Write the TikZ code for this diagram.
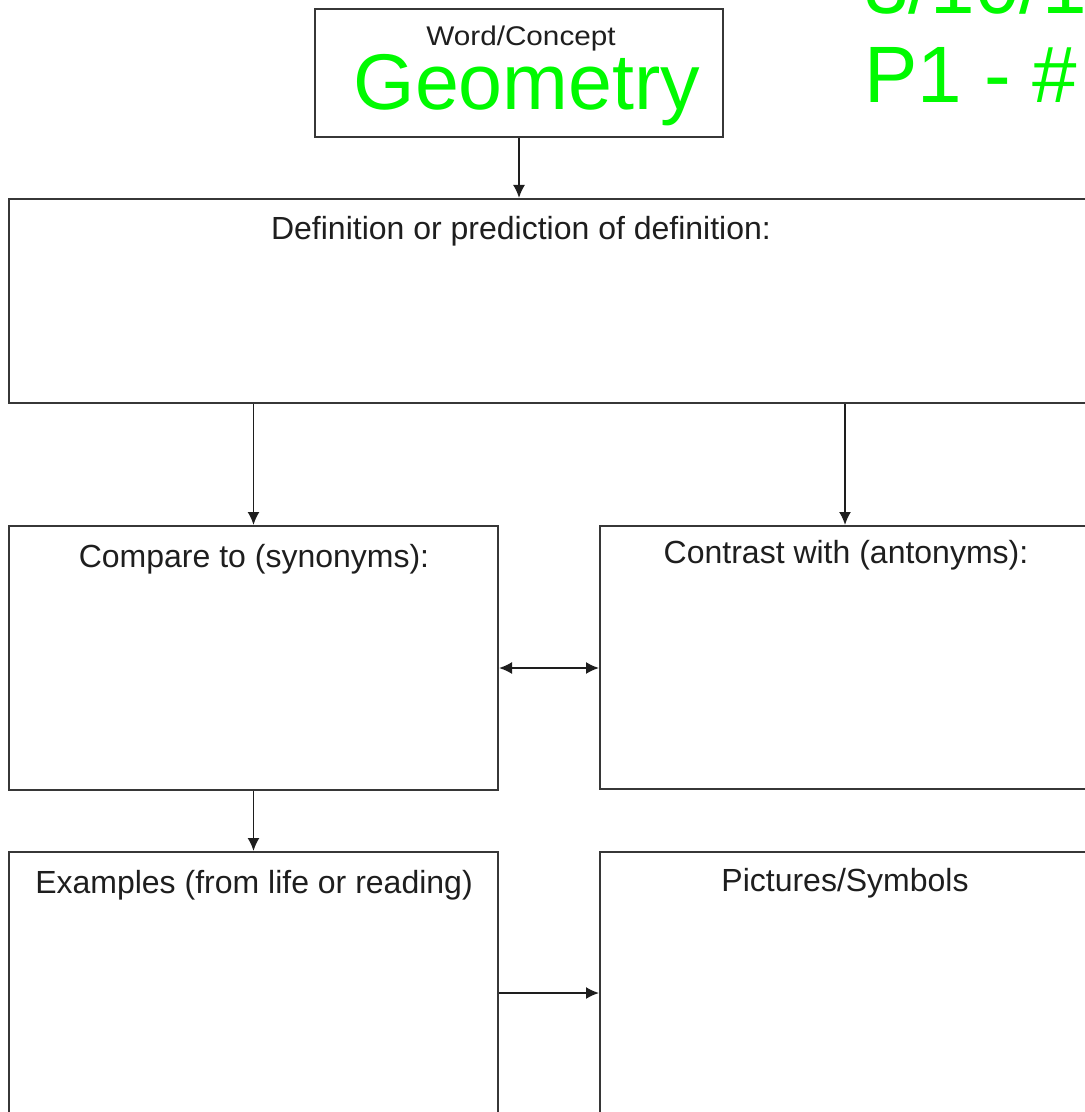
\documentclass[tikz,border=0pt]{standalone}
\usepackage{fontspec}
\setmainfont{Liberation Sans}
\usetikzlibrary{arrows.meta,positioning}
\definecolor{frameGray}{RGB}{55,55,55}
\definecolor{inkBlack} {RGB}{30,30,30}
\definecolor{penGreen} {RGB}{0,250,0}

\begin{document}
\begin{tikzpicture}[x=0.5pt,y=-0.5pt,
          >={Latex[length=6.5pt,width=6pt]},
          box/.style={rectangle,draw=frameGray,line width=1pt,inner sep=0pt},
          lbl/.style={anchor=base,text=inkBlack,font=\fontsize{16pt}{19pt}\selectfont},
          big/.style={anchor=base,text=penGreen,font=\fontsize{40pt}{46pt}\selectfont},
          link/.style={draw=inkBlack,line width=0.9pt,->}]
  \useasboundingbox (0,0) rectangle (1085,1112);
  \clip (0,0) rectangle (1085,1112);
  % boxes
  \node[box,minimum width=204pt,minimum height=64pt] (word) at (519,73) {};
  \node[box,minimum width=543pt,minimum height=102pt] (def) at (552,301) {};
  \node[box,minimum width=244.5pt,minimum height=132pt] (comp) at (253.5,658) {};
  \node[box,minimum width=247.5pt,minimum height=131.5pt] (contr) at (847.5,657.5) {};
  \node[box,minimum width=244.5pt,minimum height=136.5pt] (exam) at (253.5,988.5) {};
  \node[box,minimum width=247.5pt,minimum height=136.5pt] (pict) at (847.5,988.5) {};
  % texts
  \node[lbl,font=\fontsize{13.5pt}{16pt}\selectfont] (wordT) at (521,46)
    {\scalebox{1.1}[1]{Word/Concept}};
  \node[big,font=\fontsize{39.5pt}{46pt}\selectfont] (geo) at (527,110) {Geometry};
  \node[big,anchor=base west] (date) at (857,14) {3/10/1};
  \node[big,anchor=base west] (per) at (857,103) {P1 - \#};
  \node[lbl] (defT) at (521,240) {Definition or prediction of definition:};
  \node[lbl] (compT) at (254,567) {Compare to (synonyms):};
  \node[lbl] (contrT) at (846,563) {Contrast with (antonyms):};
  \node[lbl] (examT) at (254,893) {Examples (from life or reading)};
  \node[lbl] (pictT) at (845,891) {Pictures/Symbols};
  % connectors
  \draw[link] (word.south) -- (word.south |- def.north);
  \draw[link] (comp.north |- def.south) -- (comp.north);
  \draw[link] ([xshift=-1.25pt]contr.north |- def.south) -- ([xshift=-1.25pt]contr.north);
  \draw[link,<->]
    ([yshift=-5pt]comp.east) -- ([yshift=-5pt]comp.east -| contr.west);
  \draw[link] (comp.south) -- (exam.north);
  \draw[link] ([yshift=-2.25pt]exam.east) -- ([yshift=-2.25pt]exam.east -| pict.west);
\end{tikzpicture}
\end{document}
